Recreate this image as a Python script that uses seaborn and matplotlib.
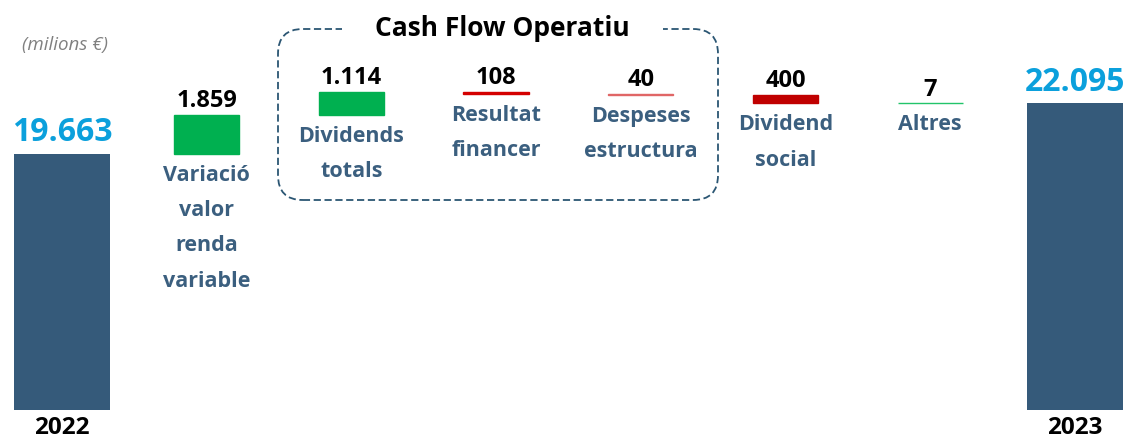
import numpy as np
import pandas as pd
import matplotlib
matplotlib.use('Agg')
import matplotlib.pyplot as plt
from matplotlib.patches import FancyBboxPatch, Rectangle
import seaborn as sns

# ---------- Data ----------
categories = ['2022', 'Variació\nvalor\nrenda\nvariable', 'Dividends\ntotals',
              'Resultat\nfinancer', 'Despeses\nestructura', 'Dividend\nsocial',
              'Altres', '2023']
start_value = 19663
end_value = 22095
changes = [1859, 1114, -108, -40, -400, 7]
change_colors = ['#00B050', '#00B050', '#D40000', '#E06666', '#C00000', '#22C46A']

# ---------- Style ----------
sns.set_style('white')
plt.rcParams['font.family'] = ['Open Sans', 'DejaVu Sans']

bar_blue = '#355A7A'
label_blue = '#3B5F7F'
total_blue = '#0BA0DC'
axis_base = 7390   # the value axis is cut, totals start here

# waterfall bottoms
running = start_value
bottoms = []
for c in changes:
    bottoms.append(running)
    running += c

totals_df = pd.DataFrame({'cat': [categories[0], categories[-1]],
                          'height': [start_value - axis_base, end_value - axis_base]})
changes_df = pd.DataFrame({'cat': categories[1:-1], 'height': changes})

fig = plt.figure(figsize=(11.29, 4.39), dpi=100)
ax = fig.add_axes([0, 0, 1, 1])

sns.barplot(data=totals_df, x='cat', y='height', order=categories, ax=ax,
            color=bar_blue, width=0.66, bottom=axis_base, linewidth=0,
            saturation=1)
sns.barplot(data=changes_df, x='cat', y='height', order=categories, ax=ax,
            color='#00B050', width=0.45, bottom=bottoms, linewidth=1.0,
            saturation=1)
for patch, col in zip(ax.patches[2:], change_colors):
    patch.set_facecolor(col)
    patch.set_edgecolor(col)

ax.set_xlim(-0.428, 7.374)
ax.set_ylim(6030, 27100)
ax.axis('off')

# ---------- Labels ----------
def fmt(v):
    return f'{abs(v):,}'.replace(',', '.')

for i, val in [(0, start_value), (7, end_value)]:
    ax.annotate(fmt(val), xy=(i, val), xytext=(0, 4), textcoords='offset points',
                ha='center', va='bottom', fontsize=23, fontweight='bold',
                color=total_blue)
    ax.annotate(categories[i], xy=(i, axis_base), xytext=(0, -3.5),
                textcoords='offset points', ha='center', va='top',
                fontsize=17.5, fontweight='bold', color='black')

for k, (b, c) in enumerate(zip(bottoms, changes)):
    i = k + 1
    top = max(b, b + c)
    low = min(b, b + c)
    ax.annotate(fmt(c), xy=(i, top), xytext=(0, 2), textcoords='offset points',
                ha='center', va='bottom', fontsize=17, fontweight='bold',
                color='black')
    ax.annotate(categories[i], xy=(i, low), xytext=(0, -7),
                textcoords='offset points', ha='center', va='top',
                fontsize=15.5, fontweight='bold', color=label_blue,
                linespacing=1.9)

ax.text(65 / 1129, 1 - 45 / 439, '(milions €)', transform=ax.transAxes,
        ha='center', va='center', fontsize=13.5, style='italic', color='#808080')

# dashed box around the operating cash flow items
box = FancyBboxPatch((278 / 1129, 1 - 201 / 439), 440 / 1129, 171 / 439,
                     boxstyle='round,pad=0,rounding_size=0.022',
                     mutation_aspect=1129 / 439, transform=ax.transAxes,
                     fill=False, edgecolor='#2B5673', linewidth=1.3,
                     linestyle=(0, (4, 2)), zorder=1)
ax.add_patch(box)
ax.add_patch(Rectangle((342 / 1129, 1 - 36 / 439), 321 / 1129, 12 / 439,
                       transform=ax.transAxes, facecolor='white',
                       edgecolor='none', zorder=2))
ax.text(502 / 1129, 1 - 29 / 439, 'Cash Flow Operatiu', transform=ax.transAxes,
        ha='center', va='center', fontsize=19, fontweight='bold', color='black',
        zorder=3)

fig.savefig('out.png', dpi=100)
